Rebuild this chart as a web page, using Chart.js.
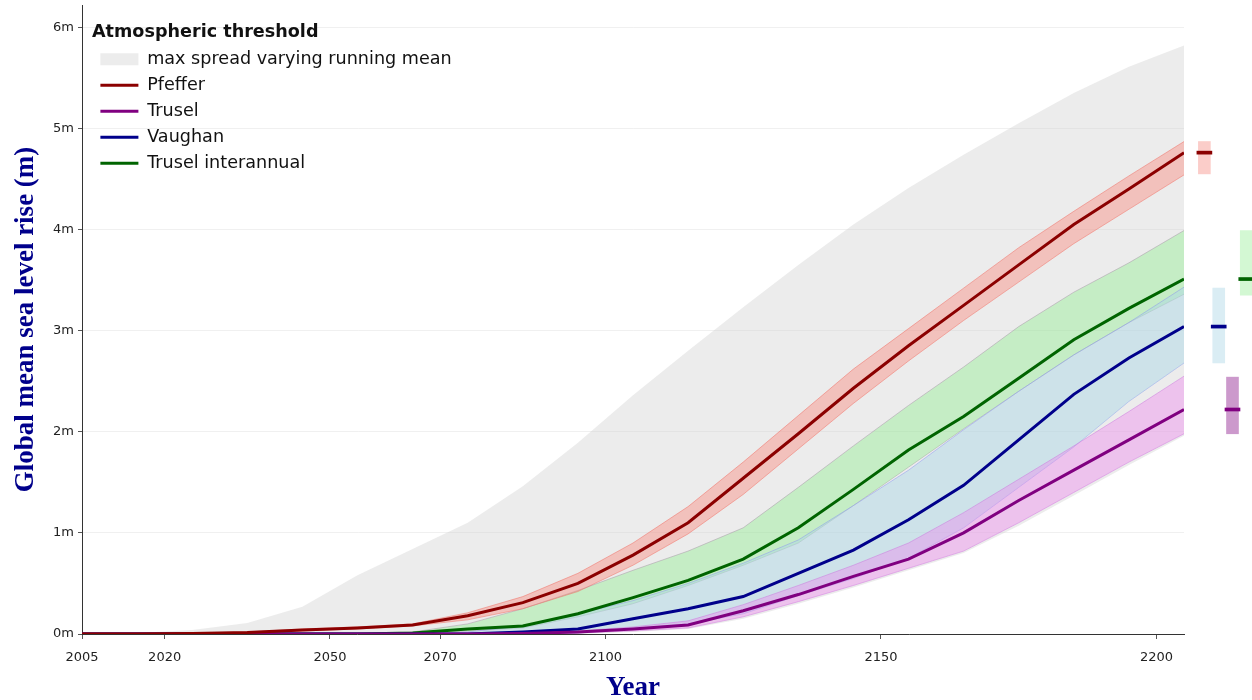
<!DOCTYPE html>
<html>
<head>
<meta charset="utf-8">
<script src="https://cdn.jsdelivr.net/npm/chart.js@4.4.0/dist/chart.umd.min.js"></script>
<style>
  html, body { margin: 0; padding: 0; background: #fff; }
  #chart { display: block; }
</style>
</head>
<body>
<canvas id="chart" width="1252" height="700"></canvas>
<script>
// sea level rise projections, metres, every 10 years
const years = [2005, 2015, 2025, 2035, 2045, 2055, 2065, 2075, 2085, 2095, 2105,
               2115, 2125, 2135, 2145, 2155, 2165, 2175, 2185, 2195, 2205];
const tickYears = [2005, 2020, 2050, 2070, 2100, 2150, 2200];
const tickMetres = [0, 1, 2, 3, 4, 5, 6];

const spreadHigh = [0, 0.01, 0.04, 0.11, 0.27, 0.58, 0.84, 1.1, 1.46, 1.89, 2.36,
                    2.8, 3.23, 3.65, 4.05, 4.41, 4.74, 5.05, 5.35, 5.61, 5.82];
const spreadLow = [0, 0, 0, 0, 0, 0, 0, 0, 0, 0, 0.02,
                   0.05, 0.15, 0.3, 0.46, 0.63, 0.8, 1.07, 1.37, 1.67, 1.96];

const pfefferMid = [0, 0, 0.005, 0.015, 0.04, 0.06, 0.09, 0.18, 0.31, 0.5, 0.78,
                    1.1, 1.54, 1.98, 2.43, 2.85, 3.25, 3.65, 4.05, 4.4, 4.76];
const pfefferLow = [0, 0, 0, 0.01, 0.03, 0.05, 0.08, 0.14, 0.25, 0.42, 0.68,
                    0.99, 1.38, 1.83, 2.28, 2.7, 3.1, 3.48, 3.86, 4.2, 4.54];
const pfefferHigh = [0, 0, 0.01, 0.02, 0.05, 0.07, 0.1, 0.21, 0.37, 0.6, 0.9,
                     1.26, 1.7, 2.16, 2.62, 3.02, 3.42, 3.82, 4.18, 4.53, 4.87];

const truselMid = [0, 0, 0, 0, 0, 0, 0, 0, 0.005, 0.02, 0.05,
                   0.09, 0.23, 0.39, 0.57, 0.74, 1.0, 1.32, 1.62, 1.92, 2.22];
const truselLow = [0, 0, 0, 0, 0, 0, 0, 0, 0, 0.01, 0.03,
                   0.06, 0.17, 0.32, 0.48, 0.65, 0.82, 1.1, 1.4, 1.7, 1.98];
const truselHigh = [0, 0, 0, 0, 0, 0, 0, 0, 0.01, 0.03, 0.07,
                    0.13, 0.29, 0.48, 0.68, 0.9, 1.2, 1.53, 1.86, 2.2, 2.55];

const vaughanMid = [0, 0, 0, 0, 0, 0, 0, 0, 0.02, 0.05, 0.15,
                    0.25, 0.37, 0.6, 0.83, 1.13, 1.47, 1.92, 2.37, 2.73, 3.04];
const vaughanLow = [0, 0, 0, 0, 0, 0, 0, 0, 0, 0.01, 0.05,
                    0.1, 0.2, 0.38, 0.55, 0.75, 1.05, 1.45, 1.85, 2.3, 2.68];
const vaughanHigh = [0, 0, 0, 0, 0, 0, 0, 0.02, 0.08, 0.2, 0.33,
                     0.5, 0.7, 0.93, 1.27, 1.62, 2.02, 2.4, 2.76, 3.08, 3.43];

const interMid = [0, 0, 0, 0, 0, 0, 0.01, 0.05, 0.08, 0.2, 0.36,
                  0.53, 0.74, 1.05, 1.43, 1.82, 2.15, 2.53, 2.91, 3.22, 3.51];
const interLow = [0, 0, 0, 0, 0, 0, 0.005, 0.03, 0.06, 0.17, 0.3,
                  0.48, 0.68, 0.9, 1.27, 1.65, 2.03, 2.4, 2.76, 3.08, 3.36];
const interHigh = [0, 0, 0, 0, 0, 0, 0.02, 0.1, 0.25, 0.43, 0.63,
                   0.82, 1.05, 1.45, 1.86, 2.26, 2.64, 3.04, 3.38, 3.67, 3.99];

// ranges at 2205, shown as bars to the right of the plot
const endNames = ['Pfeffer', 'Vaughan', 'Trusel', 'Trusel interannual'];
const endLow = [4.55, 2.68, 1.98, 3.35];
const endHigh = [4.87, 3.42, 2.54, 3.99];
const endMid = [4.76, 3.04, 2.22, 3.51];
const endSlot = [2208.7, 2211.3, 2213.8, 2216.3];
const midHalf = 0.015; // half thickness of the median stroke, metres

const pts = arr => years.map((yr, i) => ({ x: yr, y: arr[i] }));

const models = [
  { name: 'Pfeffer', mid: pfefferMid, low: pfefferLow, high: pfefferHigh,
    line: '#8b0000', band: 'rgba(250,128,114,0.4)', edge: 'rgba(240,110,100,0.5)', box: 'rgba(245,130,120,0.4)' },
  { name: 'Trusel', mid: truselMid, low: truselLow, high: truselHigh,
    line: '#800080', band: 'rgba(238,130,238,0.4)', edge: 'rgba(200,110,220,0.45)', box: 'rgba(128,0,128,0.4)' },
  { name: 'Vaughan', mid: vaughanMid, low: vaughanLow, high: vaughanHigh,
    line: '#00008b', band: 'rgba(173,216,230,0.5)', edge: 'rgba(140,150,240,0.5)', box: 'rgba(173,216,230,0.45)' },
  { name: 'Trusel interannual', mid: interMid, low: interLow, high: interHigh,
    line: '#006400', band: 'rgba(144,238,144,0.42)', edge: 'rgba(170,150,170,0.5)', box: 'rgba(144,238,144,0.4)' }
];

const datasets = [];

// medians on top
models.forEach(m => {
  datasets.push({
    type: 'line', label: m.name, data: pts(m.mid), order: 1,
    borderColor: m.line, borderWidth: 3, pointRadius: 0, fill: false, tension: 0
  });
});

// uncertainty bands
models.forEach(m => {
  const hiIdx = datasets.length;
  datasets.push({
    type: 'line', label: m.name + ' high', data: pts(m.high), order: 2,
    borderColor: m.edge, borderWidth: 1, pointRadius: 0, tension: 0,
    backgroundColor: m.band, fill: hiIdx + 1
  });
  datasets.push({
    type: 'line', label: m.name + ' low', data: pts(m.low), order: 2,
    borderColor: m.edge, borderWidth: 1, pointRadius: 0, tension: 0, fill: false
  });
});

// overall spread
const spreadIdx = datasets.length;
datasets.push({
  type: 'line', label: 'max spread varying running mean', data: pts(spreadHigh), order: 3,
  borderColor: 'rgba(0,0,0,0)', borderWidth: 0, pointRadius: 0, tension: 0,
  backgroundColor: 'rgba(200,200,200,0.35)', fill: spreadIdx + 1
});
datasets.push({
  type: 'line', label: 'spread low', data: pts(spreadLow), order: 3,
  borderColor: 'rgba(0,0,0,0)', borderWidth: 0, pointRadius: 0, tension: 0, fill: false
});

const endColor = name => models.find(m => m.name === name);

datasets.push({
  type: 'bar', label: 'end range', order: 2, clip: false, grouped: false,
  data: endNames.map((n, i) => ({ x: endSlot[i], y: [endLow[i], endHigh[i]] })),
  backgroundColor: endNames.map(n => endColor(n).box),
  borderWidth: 0, barThickness: 12
});
datasets.push({
  type: 'bar', label: 'end median', order: 1, clip: false, grouped: false,
  data: endNames.map((n, i) => ({ x: endSlot[i], y: [endMid[i] - midHalf, endMid[i] + midHalf] })),
  backgroundColor: endNames.map(n => endColor(n).line),
  borderWidth: 0, barThickness: 15
});

const legendItems = () => {
  const items = [{
    text: 'max spread varying running mean', fillStyle: '#ececec', strokeStyle: '#ececec',
    lineWidth: 0, pointStyle: 'rect', hidden: false, datasetIndex: spreadIdx
  }];
  models.forEach((m, i) => items.push({
    text: m.name, fillStyle: m.line, strokeStyle: m.line, lineWidth: 3,
    pointStyle: 'line', hidden: false, datasetIndex: i
  }));
  return items;
};

// push the legend block a little off the y axis
const legendNudge = {
  id: 'legendNudge',
  afterLayout(chart) {
    const lg = chart.legend;
    if (!lg) return;
    lg.left += 10;
    lg.right += 10;
  }
};

const tickFont = { family: 'DejaVu Sans', size: 13 };

new Chart(document.getElementById('chart'), {
  type: 'line',
  data: { datasets },
  plugins: [legendNudge],
  options: {
    responsive: false,
    devicePixelRatio: 1,
    animation: false,
    layout: { autoPadding: false, padding: { top: 5, right: 68, bottom: 0, left: 0 } },
    plugins: {
      tooltip: { enabled: false },
      legend: {
        position: 'chartArea',
        align: 'start',
        title: {
          display: true, text: 'Atmospheric threshold', position: 'start', color: '#111',
          font: { family: 'DejaVu Sans', size: 17.6, weight: 'bold' },
          padding: { top: 24, bottom: -3 }
        },
        labels: {
          generateLabels: legendItems,
          usePointStyle: true, pointStyleWidth: 38, boxHeight: 12,
          padding: 8.4, color: '#111',
          font: { family: 'DejaVu Sans', size: 17.6 }
        }
      }
    },
    scales: {
      x: {
        type: 'linear', min: 2005, max: 2205, offset: false,
        afterBuildTicks: s => { s.ticks = tickYears.map(v => ({ value: v })); },
        afterFit: s => { s.height = 66; s.paddingLeft = 0; s.paddingRight = 0; },
        grid: { display: true, offset: false, drawOnChartArea: false, tickLength: 5, color: '#555' },
        border: { color: '#333', width: 1 },
        ticks: { font: tickFont, color: '#222', padding: 11, maxRotation: 0,
                 callback: v => String(v) },
        title: {
          display: true, text: 'Year', color: '#00008b',
          font: { family: 'Liberation Serif', size: 27, weight: 'bold' },
          padding: { top: 0, bottom: -4 }
        }
      },
      y: {
        type: 'linear', min: 0, max: 6.22,
        afterBuildTicks: s => { s.ticks = tickMetres.map(v => ({ value: v })); },
        afterFit: s => { s.width = 82; s.paddingTop = 0; s.paddingBottom = 0; },
        grid: { color: 'rgba(0,0,0,0.06)', tickLength: 4, tickColor: '#555' },
        border: { color: '#333', width: 1 },
        ticks: { font: tickFont, color: '#222', padding: 4, callback: v => v + 'm' },
        title: {
          display: true, text: 'Global mean sea level rise (m)', color: '#00008b',
          font: { family: 'Liberation Serif', size: 27, weight: 'bold' },
          padding: { top: 10, bottom: 0 }
        }
      }
    }
  }
});
</script>
</body>
</html>
